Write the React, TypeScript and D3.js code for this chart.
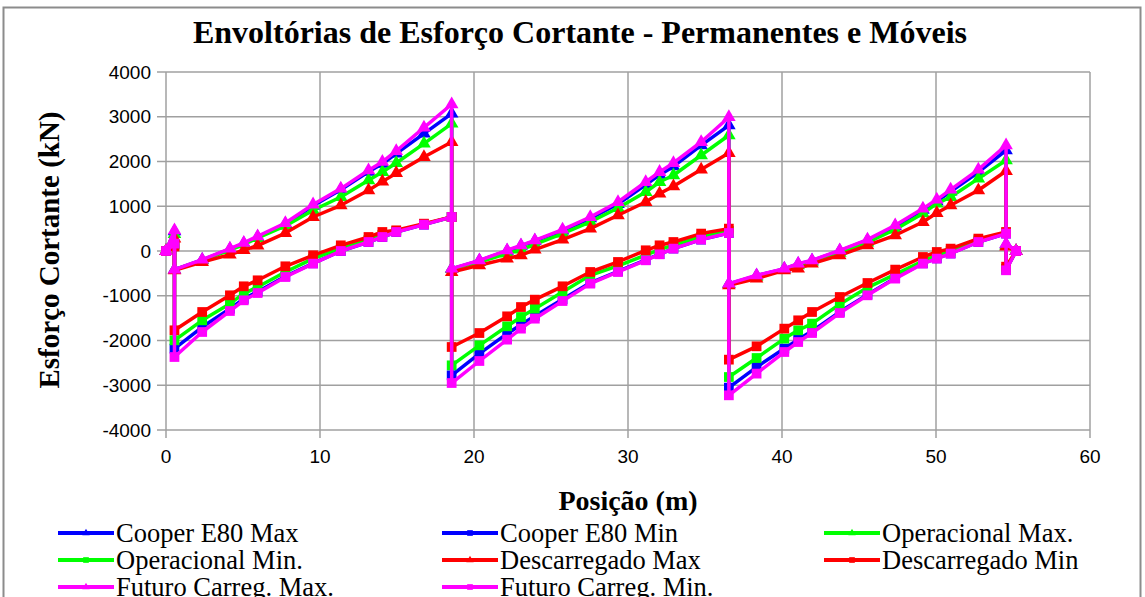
import React from "react";
import * as d3 from "d3";

const positions = [
  0, 0.55,
  0.55, 2.35, 4.15, 5.05, 5.95, 7.75, 9.55, 11.35, 13.15, 14.05, 14.95, 16.75, 18.55,
  18.55, 20.35, 22.15, 23.05, 23.95, 25.75, 27.55, 29.35, 31.15, 32.05, 32.95, 34.75, 36.55,
  36.55, 38.35, 40.15, 41.05, 41.95, 43.75, 45.55, 47.35, 49.15, 50.05, 50.95, 52.75, 54.55,
  54.55, 55.2,
];

const cooperMax = [
  0, 440,
  -416, -200, 40, 165, 310, 600, 1010, 1370, 1770, 1950, 2177, 2624, 3071,
  -400, -215, 5, 115, 225, 455, 730, 1050, 1480, 1700, 1890, 2362, 2809,
  -735, -550, -400, -290, -215, 5, 240, 550, 920, 1110, 1330, 1760, 2250,
  150, 0,
];
const cooperMin = [
  0, 150,
  -2181, -1700, -1290, -1070, -910, -565, -275, 0, 201, 313, 425, 589, 760,
  -2778, -2293, -1847, -1650, -1450, -1080, -710, -455, -200, -70, 55, 255, 402,
  -3053, -2593, -2180, -1980, -1790, -1360, -975, -605, -275, -165, -55, 201, 389,
  -420, 0,
];
const operMax = [
  0, 380,
  -420, -210, 20, 150, 290, 560, 910, 1207, 1580, 1766, 1967, 2400, 2847,
  -400, -250, -60, 30, 150, 390, 650, 960, 1319, 1542, 1692, 2139, 2586,
  -745, -575, -410, -320, -240, -40, 190, 480, 840, 1059, 1207, 1618, 2027,
  120, 0,
];
const operMin = [
  0, 130,
  -1996, -1549, -1176, -952, -804, -469, -170, 60, 250, 360, 445, 600, 760,
  -2555, -2108, -1683, -1475, -1288, -916, -543, -330, -90, 30, 130, 320, 450,
  -2816, -2391, -1958, -1772, -1623, -1191, -818, -521, -223, -100, 0, 240, 410,
  -400, 0,
];
const descMax = [
  0, 280,
  -431, -250, -80, 20, 120, 400, 760, 1021, 1357, 1550, 1740, 2101, 2436,
  -469, -320, -170, -96, 31, 255, 500, 798, 1095, 1283, 1446, 1819, 2190,
  -767, -617, -431, -394, -282, -96, 127, 351, 648, 849, 1021, 1357, 1788,
  100, 0,
];
const descMin = [
  0, 100,
  -1772, -1363, -990, -789, -655, -342, -96, 127, 313, 425, 462, 611, 760,
  -2145, -1833, -1460, -1252, -1087, -789, -469, -245, 16, 127, 201, 389, 500,
  -2428, -2130, -1735, -1549, -1363, -1028, -715, -416, -134, -22, 53, 277, 425,
  -350, 0,
];
const futuroMax = [
  0, 460,
  -416, -193, 54, 180, 330, 626, 1040, 1394, 1803, 1990, 2235, 2758, 3279,
  -394, -208, 16, 127, 239, 478, 760, 1095, 1542, 1766, 1967, 2436, 2990,
  -729, -543, -394, -282, -208, 16, 255, 574, 947, 1149, 1372, 1819, 2362,
  160, 0,
];
const futuroMin = [
  0, 165,
  -2369, -1810, -1341, -1102, -939, -581, -282, 0, 201, 313, 425, 589, 760,
  -2950, -2458, -1981, -1735, -1512, -1118, -729, -469, -208, -74, 53, 255, 402,
  -3225, -2740, -2257, -2034, -1833, -1386, -990, -617, -282, -170, -58, 201, 389,
  -431, 0,
];

const seriesNames = [
  "Cooper E80 Max", "Cooper E80 Min", "Operacional Max.", "Operacional Min.",
  "Descarregado Max", "Descarregado Min", "Futuro Carreg. Max.", "Futuro Carreg. Min.",
];
const seriesValues = [cooperMax, cooperMin, operMax, operMin, descMax, descMin, futuroMax, futuroMin];
const seriesColors = ["#0000FF", "#0000FF", "#00FF00", "#00FF00", "#FF0000", "#FF0000", "#FF00FF", "#FF00FF"];
const seriesMarkers = ["triangle", "square", "triangle", "square", "triangle", "square", "triangle", "square"];

const xTicks = [0, 10, 20, 30, 40, 50, 60];
const yTicks = [-4000, -3000, -2000, -1000, 0, 1000, 2000, 3000, 4000];

const title = "Envoltórias de Esforço Cortante  - Permanentes e Móveis";
const xTitle = "Posição (m)";
const yTitle = "Esforço Cortante  (kN)";

const W = 1145;
const H = 597;
const plot = { left: 166, right: 1090, top: 72, bottom: 430 };

export default function App() {
  const x = d3.scaleLinear().domain([0, 60]).range([plot.left, plot.right]);
  const y = d3.scaleLinear().domain([-4000, 4000]).range([plot.bottom, plot.top]);
  const line = d3.line<[number, number]>().x((d) => x(d[0])).y((d) => y(d[1]));
  const tri = d3.symbol().type(d3.symbolTriangle).size(80)();
  const sq = d3.symbol().type(d3.symbolSquare).size(95)();
  const triSmall = d3.symbol().type(d3.symbolTriangle).size(24)();
  const sqSmall = d3.symbol().type(d3.symbolSquare).size(32)();
  const serif = "'Liberation Serif', 'Times New Roman', serif";
  const sans = "'Liberation Sans', Arial, sans-serif";

  const legendCols = [58, 442, 824];
  const legendRows = [533, 560, 587];

  return (
    <svg width={W} height={H} style={{ position: "absolute", left: 0, top: 0 }}>
      <rect x={0} y={0} width={W} height={H} fill="#fff" />
      <rect x={3.5} y={7.5} width={1137} height={620} fill="#fff" stroke="#8c8c8c" strokeWidth={2} />
      <text x={580} y={43} textAnchor="middle" fontFamily={serif} fontWeight="bold" fontSize={32}>
        {title}
      </text>
      {/* grid */}
      {yTicks.map((t) => (
        <line key={"gy" + t} x1={plot.left - 9} x2={plot.right} y1={y(t)} y2={y(t)} stroke="#a0a0a0" strokeWidth={1.5} />
      ))}
      {xTicks.map((t) => (
        <line key={"gx" + t} x1={x(t)} x2={x(t)} y1={plot.top} y2={plot.bottom + 8} stroke="#a0a0a0" strokeWidth={1.5} />
      ))}
      {yTicks.map((t) => (
        <text key={"ty" + t} x={plot.left - 15} y={y(t)} dy="0.35em" textAnchor="end" fontFamily={sans} fontSize={19}>
          {t}
        </text>
      ))}
      {xTicks.map((t) => (
        <text key={"tx" + t} x={x(t)} y={plot.bottom + 33} textAnchor="middle" fontFamily={sans} fontSize={19}>
          {t}
        </text>
      ))}
      <text x={628} y={510} textAnchor="middle" fontFamily={serif} fontWeight="bold" fontSize={28}>
        {xTitle}
      </text>
      <text
        transform={`translate(59, 250) rotate(-90)`}
        textAnchor="middle"
        fontFamily={serif}
        fontWeight="bold"
        fontSize={29}
      >
        {yTitle}
      </text>
      {/* series */}
      {seriesValues.map((vals, i) => {
        const pts = positions.map((p, j) => [p, vals[j]] as [number, number]);
        return (
          <g key={"s" + i}>
            <path d={line(pts) || ""} fill="none" stroke={seriesColors[i]} strokeWidth={3.5} strokeLinejoin="round" />
            {pts.map((d, j) => (
              <path
                key={j}
                d={seriesMarkers[i] === "triangle" ? tri : sq}
                transform={`translate(${x(d[0])},${y(d[1])})`}
                fill={seriesColors[i]}
              />
            ))}
          </g>
        );
      })}
      {/* legend */}
      {seriesNames.map((name, i) => {
        const cx = legendCols[i % 3];
        const cy = legendRows[Math.floor(i / 3)];
        return (
          <g key={"l" + i}>
            <line x1={cx} x2={cx + 56} y1={cy} y2={cy} stroke={seriesColors[i]} strokeWidth={4} />
            <path
              d={seriesMarkers[i] === "triangle" ? triSmall : sqSmall}
              transform={`translate(${cx + 28},${cy})`}
              fill={seriesColors[i]}
            />
            <text x={cx + 58} y={cy} dy="0.33em" fontFamily={serif} fontSize={26.5}>
              {name}
            </text>
          </g>
        );
      })}
    </svg>
  );
}
